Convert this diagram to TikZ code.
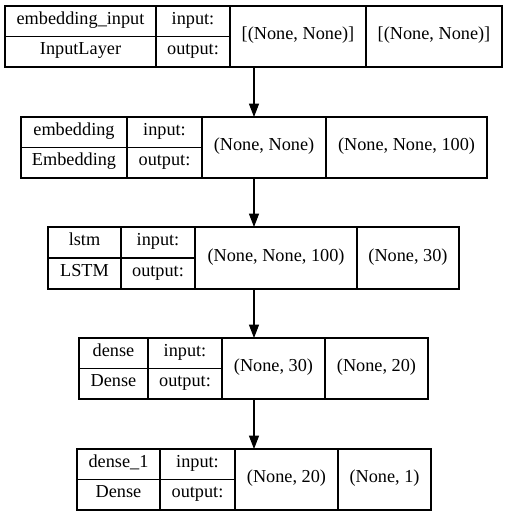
\documentclass[tikz,border=0pt]{standalone}
\usepackage{fontspec}
\setmainfont{Liberation Serif}
\usetikzlibrary{arrows.meta}
\tikzset{cell/.style={draw,line width=.8pt,inner sep=0pt,outer sep=0pt,anchor=north west,
    font=\fontsize{13.7}{16}\selectfont,text height=.72em,text depth=.25em},
  arr/.style={line width=.8pt,-{Triangle[length=10pt,width=7.5pt]}}}

\begin{document}
\begin{tikzpicture}[x=.75pt,y=-.75pt]
\fill[white] (0,0) rectangle (508,516);
\useasboundingbox (0,0) rectangle (508,516);
\coordinate (mid) at (254,0);
% one record per layer: name, class, input and output shapes
\foreach \id/\t/\b/\xa/\xb/\xc/\xd/\xe/\nm/\cl/\ins/\outs in {
  inp/6/67/5/156/230/366/502/embedding\_input/InputLayer/{[(None, None)]}/{[(None, None)]},
  emb/117/178/21/127/202/326/487/embedding/Embedding/{(None, None)}/{(None, None, 100)},
  lstm/227/289/48/121/195/357/459/lstm/LSTM/{(None, None, 100)}/{(None, 30)},
  dense/338/399/79/148/222/325/428/dense/Dense/{(None, 30)}/{(None, 20)},
  dense1/449/510/77/160/235/338/431/dense\_1/Dense/{(None, 20)}/{(None, 1)}}
{
  \node[cell,minimum width={(\xb-\xa)*.75pt},minimum height={(\b-\t)*.375pt}]
    (\id-nm) at (\xa,\t) {\nm};
  \node[cell,anchor=south west,minimum width={(\xb-\xa)*.75pt},minimum height={(\b-\t)*.375pt}]
    (\id-cl) at (\xa,\b) {\cl};
  \node[cell,minimum width={(\xc-\xb)*.75pt},minimum height={(\b-\t)*.375pt}]
    (\id-i) at (\xb,\t) {input:};
  \node[cell,anchor=south west,minimum width={(\xc-\xb)*.75pt},minimum height={(\b-\t)*.375pt}]
    (\id-o) at (\xb,\b) {output:};
  \node[cell,minimum width={(\xd-\xc)*.75pt},minimum height={(\b-\t)*.75pt}]
    (\id-a) at (\xc,\t) {\ins};
  \node[cell,minimum width={(\xe-\xd)*.75pt},minimum height={(\b-\t)*.75pt}]
    (\id-b) at (\xd,\t) {\outs};
}
\foreach \u/\v in {inp/emb,emb/lstm,lstm/dense,dense/dense1}
  \draw[arr] (\u-a.south -| mid) -- (\v-a.north -| mid);
\end{tikzpicture}
\end{document}
